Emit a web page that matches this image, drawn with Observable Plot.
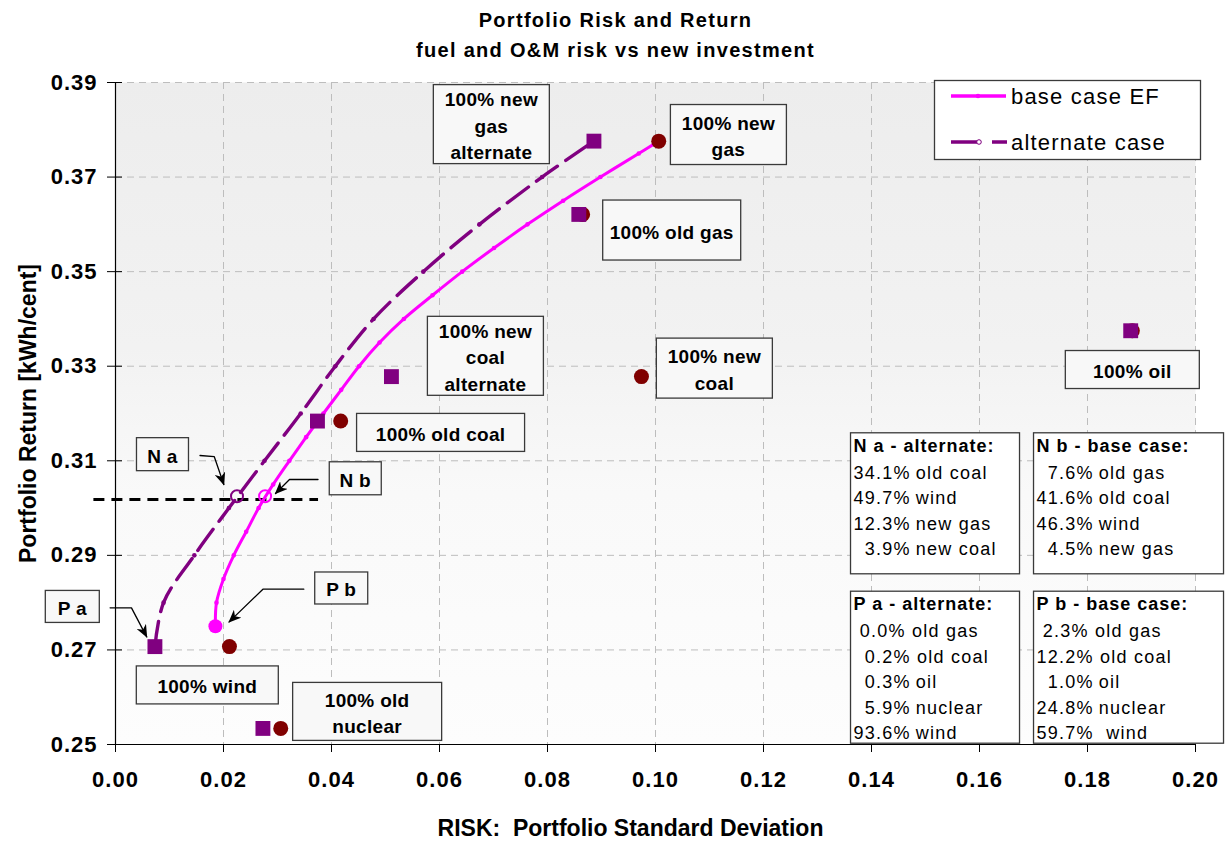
<!DOCTYPE html>
<html>
<head>
<meta charset="utf-8">
<script src="https://cdn.jsdelivr.net/npm/d3@7"></script>
<script src="https://cdn.jsdelivr.net/npm/@observablehq/plot@0.6"></script>
<style>
  html, body { margin: 0; padding: 0; background: #fff; }
  #chart svg { display: block; }
  #chart text { white-space: pre; }
  #chart g[aria-description="title"] text { letter-spacing: 1.3px; }
  #chart g[aria-description="callout"] text { letter-spacing: 0.3px; }
  #chart g[aria-description="info-title"] text { letter-spacing: 1px; }
  #chart g[aria-description="info-body"] text { letter-spacing: 1.25px; }
  #chart g[aria-label="x-axis tick label"] text,
  #chart g[aria-label="y-axis tick label"] text { letter-spacing: 1px; }
  #chart .legend text { letter-spacing: 1.2px; }
</style>
</head>
<body>
<div id="chart"></div>
<script>
const FONT = "'Liberation Sans', Arial, Helvetica, sans-serif";
const MAGENTA = "#ff00ff", PURPLE = "#800080", MAROON = "#800000";
const NS = "http://www.w3.org/2000/svg";

// Efficient frontier, base case: portfolio risk (std. dev.) and return
const baseFrontierRisk   = [0.0185, 0.0187, 0.0200, 0.0219, 0.0242, 0.0265, 0.0292, 0.0322, 0.0353, 0.0385, 0.0418,
                            0.0451, 0.0489, 0.0534, 0.0587, 0.0642, 0.0701, 0.0763, 0.0829, 0.0898, 0.0969, 0.1006];
const baseFrontierReturn = [0.275, 0.280, 0.285, 0.290, 0.295, 0.300, 0.305, 0.310, 0.315, 0.320, 0.325,
                            0.330, 0.335, 0.340, 0.345, 0.350, 0.355, 0.360, 0.365, 0.370, 0.375, 0.3776];

// Efficient frontier, alternate case
const altFrontierRisk   = [0.0073, 0.0089, 0.0146, 0.0210, 0.0276, 0.0343, 0.0407, 0.0478, 0.0570, 0.0674, 0.0790, 0.0886];
const altFrontierReturn = [0.2706, 0.280, 0.290, 0.300, 0.310, 0.320, 0.330, 0.340, 0.350, 0.360, 0.370, 0.3776];

// Single-technology portfolios (circles: base case, squares: alternate case)
const assetNames    = ["new gas", "old gas", "new coal", "old coal", "oil", "wind", "old nuclear"];
const assetReturn   = [0.3776, 0.3621, 0.3278, 0.3184, 0.3375, 0.2707, 0.2534];
const assetRiskBase = [0.1006, 0.0865, 0.0974, 0.0417, 0.1883, 0.0211, 0.0306];
const assetRiskAlt  = [0.0886, 0.0858, 0.0511, 0.0374, 0.1880, 0.0073, 0.0273];

// Equal-return portfolios N a (alternate) and N b (base)
const nPortfolioReturn = 0.3025;
const nPortfolioRiskAlt = 0.0225;
const nPortfolioRiskBase = 0.0277;
const nReturnLevel = 0.3018;
const nLevelRisk = [-0.004, 0.0376];

// Axis ticks
const xTicks = [0, 0.02, 0.04, 0.06, 0.08, 0.10, 0.12, 0.14, 0.16, 0.18, 0.20];
const yTicks = [0.25, 0.27, 0.29, 0.31, 0.33, 0.35, 0.37, 0.39];

// Callout labels, their anchors (data units) and box sizes (px)
const calloutText = ["100% new\ngas\nalternate", "100% new\ngas", "100% old gas", "100% new\ncoal\nalternate",
                     "100% new\ncoal", "100% old coal", "100% oil", "N a", "N b", "P b", "P a", "100% wind", "100% old\nnuclear"];
const calloutRisk   = [0.0696, 0.1135, 0.1030, 0.0685, 0.1109, 0.0602, 0.1883, 0.0087, 0.0444, 0.0418, -0.0080, 0.0170, 0.0466];
const calloutReturn = [0.3812, 0.3790, 0.3588, 0.3322, 0.3296, 0.3160, 0.3293, 0.3114, 0.3063, 0.2831, 0.2792, 0.2626, 0.2570];
const calloutBox = [[116, 79], [116, 60], [138, 60], [116, 79], [116, 60], [168, 38], [134, 38],
                    [52, 33], [52, 33], [53, 32], [54, 32], [142, 38], [149, 58]];

// Pointer arrows from callouts to the highlighted portfolios
const pointerIds = ["Na", "Na", "Na", "Nb", "Nb", "Nb", "Pa", "Pa", "Pa", "Pb", "Pb", "Pb"];
const pointerRisk   = [0.01565, 0.01828, 0.02006, 0.0375, 0.03222, 0.02963, -0.0010, 0.00296, 0.00578, 0.03487, 0.0273, 0.02104];
const pointerReturn = [0.31112, 0.3109, 0.30498, 0.30604, 0.30604, 0.30308, 0.2789, 0.2789, 0.27276, 0.28284, 0.28284, 0.27593];

// Portfolio composition boxes
const infoTitles = ["N a - alternate:", "N b - base case:", "P a - alternate:", "P b - base case:"];
const infoLines = [
  ["34.1%\u2009old coal", "49.7%\u2009wind", "12.3%\u2009new gas", "\u20073.9%\u2009new coal"],
  ["\u20077.6%\u2009old gas", "41.6%\u2009old coal", "46.3%\u2009wind", "\u20074.5%\u2009new gas"],
  [" 0.0% old gas", "\u20070.2% old coal", "\u20070.3%\u2009oil", "\u20075.9%\u2009nuclear", "93.6%\u2009wind"],
  [" 2.3% old gas", "12.2% old coal", "\u20071.0%\u2009oil", "24.8%\u2009nuclear", "59.7%  wind"]
];
const infoRisk   = [0.13667, 0.17056, 0.13667, 0.17056];
const infoReturn = [0.31465, 0.31465, 0.28115, 0.28115];
const infoBox = [[169, 141], [190, 141], [169, 152], [190, 152]];

// Tables built from the arrays above
const baseFrontier = baseFrontierRisk.map((risk, i) => ({risk, ret: baseFrontierReturn[i]}));
const altFrontier = altFrontierRisk.map((risk, i) => ({risk, ret: altFrontierReturn[i]}));
const assets = assetNames.map((name, i) => ({name, ret: assetReturn[i], base: assetRiskBase[i], alt: assetRiskAlt[i]}));
const callouts = calloutText.map((text, i) => ({text, risk: calloutRisk[i], ret: calloutReturn[i]}));
const pointers = pointerIds.map((id, i) => ({id, risk: pointerRisk[i], ret: pointerReturn[i]}));
const infos = infoTitles.map((title, i) => ({title, body: infoLines[i].join("\n"), risk: infoRisk[i], ret: infoReturn[i]}));

const fmt = d3.format(".2f");

const chart = Plot.plot({
  width: 1226,
  height: 841,
  marginLeft: 115,
  marginRight: 31,
  marginTop: 82,
  marginBottom: 97,
  style: {fontFamily: FONT, background: "transparent", overflow: "visible", color: "black"},
  x: {domain: [0, 0.2]},
  y: {domain: [0.25, 0.39]},
  marks: [
    Plot.frame({fill: "url(#plotBg)"}),
    Plot.gridX(xTicks.slice(1), {stroke: "#bdbdbd", strokeOpacity: 1, strokeDasharray: "7,5"}),
    Plot.gridY(yTicks.slice(1), {stroke: "#bdbdbd", strokeOpacity: 1, strokeDasharray: "7,5"}),
    Plot.ruleX([0], {stroke: "black", strokeWidth: 1.2}),
    Plot.ruleY([0.25], {stroke: "black", strokeWidth: 1.2}),
    Plot.axisX(xTicks, {tickSize: 8, tickPadding: 19, tickFormat: fmt, fontSize: 22, fontWeight: "bold", label: null}),
    Plot.axisY(yTicks, {tickSize: 15, dx: 7, tickPadding: 10, tickFormat: fmt, fontSize: 22, fontWeight: "bold", label: null}),

    // titles
    Plot.text(["Portfolio Risk and Return"], {frameAnchor: "top", lineAnchor: "middle", dx: -40, dy: -62,
      fontSize: 20, fontWeight: "bold", ariaDescription: "title"}),
    Plot.text(["fuel and O&M risk vs new investment"], {frameAnchor: "top", lineAnchor: "middle", dx: -40, dy: -32,
      fontSize: 20, fontWeight: "bold", ariaDescription: "title"}),
    Plot.text(["Portfolio Return [kWh/cent]"], {frameAnchor: "left", textAnchor: "middle", lineAnchor: "middle",
      dx: -87, rotate: -90, fontSize: 23, fontWeight: "bold"}),
    Plot.text(["RISK:  Portfolio Standard Deviation"], {frameAnchor: "bottom", textAnchor: "middle", lineAnchor: "middle",
      dx: -25, dy: 84, fontSize: 23, fontWeight: "bold"}),

    // equal-return level
    Plot.ruleY([nReturnLevel], {x1: nLevelRisk[0], x2: nLevelRisk[1], stroke: "black", strokeWidth: 3, strokeDasharray: "11,7"}),

    // frontiers (smoothed through the computed portfolios)
    Plot.line(altFrontier, {x: "risk", y: "ret", stroke: PURPLE, strokeWidth: 3.4, strokeDasharray: "26,10", curve: "catmull-rom"}),
    Plot.dot(altFrontier, {x: "risk", y: "ret", r: 2.3, fill: PURPLE}),
    Plot.line(baseFrontier, {x: "risk", y: "ret", stroke: MAGENTA, strokeWidth: 3, curve: "catmull-rom"}),
    Plot.dot(baseFrontier, {x: "risk", y: "ret", r: 2.3, fill: MAGENTA}),

    // single-technology portfolios
    Plot.dot(assets, {x: "base", y: "ret", r: 7.5, fill: MAROON}),
    Plot.dot(assets, {x: "alt", y: "ret", r: 8.4, symbol: "square", fill: PURPLE}),

    // highlighted portfolios
    Plot.dot(baseFrontier.slice(0, 1), {x: "risk", y: "ret", r: 7, fill: MAGENTA}),
    Plot.dot([{risk: nPortfolioRiskAlt, ret: nPortfolioReturn}], {x: "risk", y: "ret", r: 6, fill: "none", stroke: PURPLE, strokeWidth: 2}),
    Plot.dot([{risk: nPortfolioRiskBase, ret: nPortfolioReturn}], {x: "risk", y: "ret", r: 6, fill: "none", stroke: MAGENTA, strokeWidth: 2}),

    // pointers and callouts
    Plot.line(pointers, {x: "risk", y: "ret", z: "id", stroke: "black", strokeWidth: 1.3, ariaDescription: "pointer"}),
    Plot.text(callouts, {x: "risk", y: "ret", text: "text", fontSize: 19, fontWeight: "bold", lineHeight: 1.4,
      fill: "black", ariaDescription: "callout"}),

    // composition boxes
    Plot.text(infos, {x: "risk", y: "ret", text: "title", textAnchor: "start", lineAnchor: "top", fontSize: 18,
      fontWeight: "bold", fill: "black", ariaDescription: "info-title"}),
    Plot.text(infos, {x: "risk", y: "ret", text: "body", textAnchor: "start", lineAnchor: "top", dy: 21.8, fontSize: 18,
      lineHeight: 1.42, fill: "black", ariaDescription: "info-body"})
  ]
});

document.getElementById("chart").append(chart);

// plot background gradient and arrowhead marker
const defs = document.createElementNS(NS, "defs");
defs.innerHTML = `
  <linearGradient id="plotBg" x1="0" y1="0" x2="0" y2="1">
    <stop offset="0" stop-color="#ededed"/>
    <stop offset="0.4" stop-color="#f2f2f2"/>
    <stop offset="0.62" stop-color="#f9f9f9"/>
    <stop offset="1" stop-color="#fdfdfd"/>
  </linearGradient>
  <marker id="arrowHead" viewBox="0 0 12 10" refX="11" refY="5" markerWidth="13" markerHeight="11"
          markerUnits="userSpaceOnUse" orient="auto">
    <path d="M0,0 L12,5 L0,10 L3.5,5 Z" fill="black"/>
  </marker>`;
chart.insertBefore(defs, chart.firstChild);

chart.querySelectorAll('g[aria-description="pointer"] path').forEach(p => p.setAttribute("marker-end", "url(#arrowHead)"));

// boxes behind text labels
function addBoxes(label, sizes, place, fill) {
  chart.querySelectorAll(`g[aria-description="${label}"] text`).forEach((t, i) => {
    const [w, h] = sizes[i];
    const [x0, y0] = place(w, h);
    const r = document.createElementNS(NS, "rect");
    r.setAttribute("x", x0);
    r.setAttribute("y", y0);
    r.setAttribute("width", w);
    r.setAttribute("height", h);
    r.setAttribute("fill", fill);
    r.setAttribute("stroke", "#3a3a3a");
    r.setAttribute("stroke-width", "1.3");
    const tr = t.getAttribute("transform");
    if (tr) r.setAttribute("transform", tr);
    t.parentNode.insertBefore(r, t);
  });
}
addBoxes("callout", calloutBox, (w, h) => [-w / 2, -h / 2], "#f8f8f8");
addBoxes("info-title", infoBox, () => [-3, -6], "#ffffff");

// legend
const legend = document.createElementNS(NS, "g");
legend.setAttribute("class", "legend");
legend.innerHTML = `
  <rect x="934.5" y="80.5" width="266" height="79" fill="#ffffff" stroke="#3a3a3a" stroke-width="1.3"/>
  <line x1="951" y1="96" x2="1006" y2="96" stroke="${MAGENTA}" stroke-width="3.5"/>
  <circle cx="978" cy="96" r="2.3" fill="${MAGENTA}"/>
  <text x="1011" y="96" dy="0.35em" font-size="22" fill="black" text-anchor="start">base case EF</text>
  <line x1="951" y1="142" x2="1007" y2="142" stroke="${PURPLE}" stroke-width="3.5" stroke-dasharray="30,11"/>
  <circle cx="979" cy="142" r="2.3" fill="#ffffff" stroke="${PURPLE}" stroke-width="1"/>
  <text x="1011" y="142" dy="0.35em" font-size="22" fill="black" text-anchor="start">alternate case</text>`;
chart.append(legend);
</script>
</body>
</html>
